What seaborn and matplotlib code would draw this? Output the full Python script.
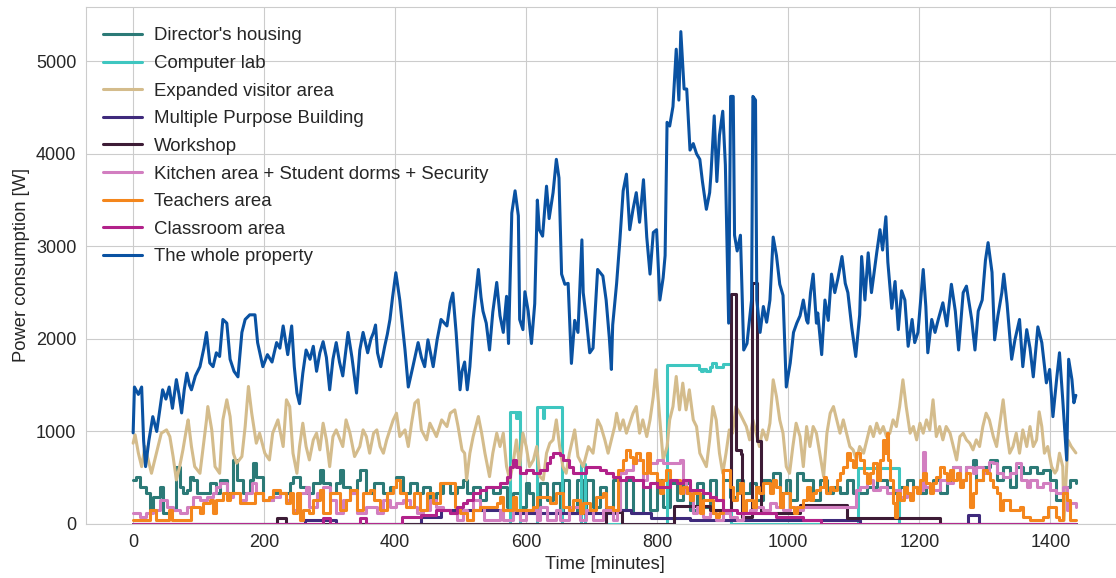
import matplotlib
matplotlib.use("Agg")
import matplotlib.pyplot as plt
import seaborn as sns

# Director's housing
director_t = [0, 5, 10, 20, 26, 31, 41, 46, 56, 66, 71, 76, 82, 87, 92, 97, 107, 117, 127, 132,
              143, 153, 158, 168, 178, 183, 188, 198, 208, 214, 229, 239, 244, 254, 264, 275, 285,
              290, 300, 310, 315, 320, 331, 341, 346, 356, 367, 382, 392, 402, 412, 422, 433, 443,
              453, 463, 473, 484, 494, 504, 509, 519, 529, 539, 549, 560, 570, 580, 590, 600, 605,
              611, 621, 631, 641, 651, 656, 666, 677, 687, 692, 702, 712, 722, 733, 743, 753, 763,
              768, 779, 789, 799, 809, 819, 830, 840, 850, 860, 870, 880, 890, 900, 911, 921, 931,
              941, 951, 962, 972, 977, 987, 997, 1003, 1013, 1023, 1028, 1038, 1048, 1059, 1069,
              1079, 1089, 1099, 1120, 1135, 1150, 1160, 1171, 1181, 1191, 1201, 1211, 1221, 1232,
              1242, 1252, 1262, 1272, 1282, 1287, 1297, 1308, 1318, 1328, 1338, 1348, 1359, 1369,
              1379, 1389, 1399, 1409, 1420, 1430, 1439]
director_w = [476, 512, 404, 332, 151, 296, 404, 115, 151, 620, 404, 332, 368, 512, 476, 332, 332,
              440, 332, 476, 332, 692, 476, 332, 476, 657, 512, 260, 260, 332, 332, 440, 512, 404,
              332, 440, 584, 440, 332, 440, 584, 404, 332, 476, 584, 332, 440, 332, 404, 512, 332,
              440, 332, 404, 260, 332, 440, 332, 404, 476, 332, 404, 260, 404, 332, 404, 188, 332,
              188, 440, 332, 115, 440, 260, 440, 115, 476, 115, 476, 115, 476, 188, 404, 151, 476,
              151, 476, 115, 115, 404, 151, 476, 188, 440, 260, 440, 151, 440, 188, 476, 260, 476,
              296, 476, 332, 440, 260, 476, 404, 548, 332, 476, 260, 548, 476, 476, 260, 476, 332,
              404, 332, 476, 332, 404, 476, 404, 332, 404, 476, 404, 332, 404, 476, 332, 476, 620,
              476, 620, 692, 476, 620, 692, 476, 620, 404, 620, 548, 620, 548, 584, 476, 260, 404,
              476, 440]

# Computer lab
lab_t = [0, 574, 575, 585, 587, 590, 591, 615, 616, 625, 626, 627, 654, 655, 682, 683, 690, 814,
         815, 862, 864, 867, 870, 875, 880, 883, 890, 900, 911, 912, 1106, 1107, 1168, 1169, 1439]
lab_w = [0, 0, 1210, 1150, 1210, 1210, 0, 0, 1266, 1266, 1150, 1266, 1266, 0, 0, 650, 0, 0,
         1720, 1720, 1680, 1650, 1680, 1650, 1700, 1740, 1700, 1730, 1730, 0, 0, 610, 610, 0, 0]

# Expanded visitor area
visitor_t = [0, 3, 8, 13, 18, 23, 28, 33, 38, 43, 51, 56, 61, 66, 71, 76, 82, 84, 89, 94, 102,
             107, 112, 114, 120, 125, 132, 137, 143, 148, 153, 158, 166, 171, 176, 181, 188, 193,
             201, 208, 213, 221, 229, 234, 239, 244, 250, 254, 259, 264, 269, 275, 280, 285, 290,
             295, 300, 305, 310, 320, 325, 331, 338, 346, 351, 356, 361, 367, 372, 377, 382, 387,
             392, 397, 402, 407, 415, 420, 425, 430, 435, 440, 448, 453, 463, 471, 479, 484, 491,
             496, 502, 506, 509, 514, 519, 527, 532, 537, 544, 549, 555, 560, 565, 570, 575, 580,
             585, 590, 595, 600, 605, 611, 616, 621, 626, 631, 636, 641, 646, 651, 656, 661, 666,
             674, 679, 687, 695, 702, 709, 714, 720, 725, 730, 735, 738, 743, 748, 753, 758, 763,
             768, 773, 778, 784, 789, 794, 798, 804, 809, 815, 819, 824, 829, 834, 839, 844, 849,
             855, 860, 865, 870, 875, 880, 885, 890, 895, 900, 905, 910, 915, 920, 926, 931, 936,
             941, 946, 951, 956, 961, 967, 972, 977, 982, 987, 992, 997, 1002, 1007, 1012, 1018,
             1023, 1028, 1033, 1038, 1043, 1048, 1054, 1059, 1064, 1069, 1074, 1079, 1084, 1089,
             1094, 1099, 1104, 1109, 1115, 1120, 1125, 1130, 1135, 1140, 1145, 1150, 1155, 1160,
             1165, 1170, 1175, 1180, 1186, 1191, 1196, 1201, 1206, 1211, 1216, 1221, 1226, 1231,
             1236, 1241, 1247, 1252, 1257, 1262, 1267, 1272, 1277, 1282, 1287, 1292, 1297, 1302,
             1307, 1313, 1318, 1323, 1328, 1333, 1338, 1343, 1348, 1353, 1358, 1364, 1369, 1374,
             1379, 1383, 1387, 1391, 1396, 1402, 1407, 1410, 1414, 1419, 1421, 1427, 1432, 1439]
visitor_w = [873, 963, 765, 620, 837, 692, 548, 692, 837, 981, 1017, 945, 729, 476, 620, 801,
             1053, 1125, 837, 620, 548, 837, 1125, 1269, 1017, 620, 548, 1125, 1342, 1161, 765,
             657, 729, 1053, 1486, 1197, 873, 981, 765, 692, 981, 1125, 837, 1342, 1269, 765, 548,
             837, 1089, 837, 692, 909, 981, 801, 1089, 909, 620, 945, 1017, 837, 1125, 981, 729,
             837, 1017, 945, 765, 981, 1017, 837, 765, 909, 1017, 1125, 1197, 945, 1017, 837, 1089,
             1306, 1342, 1017, 909, 1089, 945, 1125, 1053, 1197, 1233, 1053, 800, 765, 476, 765,
             945, 1161, 981, 765, 512, 765, 981, 837, 981, 620, 476, 657, 909, 620, 981, 837, 620,
             692, 837, 512, 476, 765, 873, 909, 1125, 837, 620, 548, 765, 1017, 729, 620, 837, 765,
             1125, 1053, 909, 765, 909, 1053, 1197, 1017, 1125, 981, 1089, 1197, 1269, 981, 1125,
             945, 1125, 1378, 1666, 1125, 692, 837, 1125, 1269, 1594, 1233, 1522, 1233, 1450,
             1125, 1053, 765, 692, 620, 909, 1269, 1125, 765, 548, 765, 1017, 981, 1269, 1197,
             1125, 1053, 909, 1125, 981, 837, 1017, 909, 1089, 1558, 1378, 1125, 981, 620, 548,
             837, 1089, 945, 620, 1053, 837, 1053, 981, 765, 512, 981, 1197, 1269, 1125, 981,
             1125, 981, 837, 801, 692, 837, 765, 909, 1053, 945, 1089, 981, 1053, 945, 981, 1125,
             1053, 1269, 1558, 1269, 981, 1053, 909, 1089, 981, 1125, 1017, 1342, 945, 1053, 909,
             1053, 981, 837, 692, 945, 981, 909, 873, 801, 909, 837, 1053, 1197, 1125, 945, 837,
             1089, 1342, 1017, 765, 837, 981, 765, 1017, 837, 1053, 837, 909, 1212, 1053, 765,
             837, 620, 550, 584, 765, 620, 40, 906, 837, 768]

# Multiple Purpose Building
mpb_t = [0, 260, 262, 300, 310, 430, 440, 470, 580, 581, 722, 735, 750, 760, 789, 790, 830, 850,
         1100, 1110, 1274, 1275, 1290, 1291, 1439]
mpb_w = [0, 0, 40, 40, 0, 0, 80, 150, 150, 115, 115, 150, 150, 115, 115, 70, 70, 40, 40, 0, 0,
         100, 100, 0, 0]

# Workshop
workshop_t = [0, 218, 220, 232, 234, 720, 722, 745, 746, 826, 860, 880, 911, 912, 919, 920, 928,
              930, 944, 945, 952, 953, 957, 958, 1018, 1089, 1090, 1230, 1231, 1439]
workshop_w = [0, 0, 60, 60, 0, 0, 130, 130, 0, 190, 190, 150, 150, 2480, 2480, 800, 760, 80, 80,
              2600, 2600, 900, 900, 120, 200, 200, 60, 60, 0, 0]

# Kitchen area + Student dorms + Security
kitchen_t = [0, 10, 20, 31, 41, 51, 61, 71, 82, 92, 102, 112, 122, 127, 132, 143, 153, 163, 173,
             181, 188, 198, 214, 224, 234, 244, 254, 264, 269, 280, 290, 300, 310, 320, 331, 341,
             356, 372, 382, 392, 402, 412, 422, 433, 443, 453, 463, 473, 484, 494, 504, 509, 519,
             529, 535, 544, 560, 565, 580, 590, 600, 616, 621, 631, 646, 651, 666, 682, 692, 702,
             717, 733, 738, 743, 753, 763, 768, 779, 784, 799, 809, 819, 834, 840, 844, 855, 860,
             870, 880, 890, 900, 911, 921, 931, 941, 951, 962, 972, 982, 992, 1003, 1013, 1023,
             1099, 1104, 1109, 1120, 1130, 1140, 1150, 1160, 1171, 1181, 1191, 1201, 1206, 1209,
             1221, 1232, 1242, 1252, 1262, 1272, 1282, 1287, 1297, 1306, 1313, 1318, 1328, 1338,
             1348, 1356, 1364, 1369, 1379, 1389, 1399, 1409, 1420, 1425, 1430, 1439]
kitchen_w = [115, 79, 115, 151, 260, 188, 151, 115, 188, 296, 260, 296, 332, 404, 440, 296, 332,
             260, 332, 440, 332, 260, 296, 332, 260, 151, 332, 404, 188, 332, 404, 260, 115, 260,
             332, 115, 188, 115, 260, 188, 224, 260, 188, 115, 151, 260, 188, 151, 115, 43, 151,
             43, 260, 188, 43, 43, 151, 43, 151, 43, 151, 43, 188, 43, 151, 43, 188, 43, 151, 43,
             151, 43, 151, 548, 584, 657, 692, 476, 657, 692, 657, 657, 692, 476, 332, 115, 188,
             79, 115, 43, 115, 79, 43, 115, 151, 188, 151, 224, 188, 151, 188, 151, 188, 188, 368,
             404, 476, 368, 404, 332, 368, 296, 332, 404, 368, 780, 404, 368, 476, 440, 620, 476,
             620, 548, 620, 548, 670, 657, 548, 512, 548, 657, 476, 404, 476, 404, 440, 368, 332,
             404, 151, 224, 188]

# Teachers area
teachers_t = [0, 23, 26, 33, 35, 51, 54, 60, 87, 89, 97, 102, 107, 117, 122, 127, 137, 143, 148,
              158, 163, 183, 186, 193, 198, 208, 214, 224, 234, 239, 244, 250, 254, 259, 269, 275,
              285, 290, 300, 310, 315, 325, 331, 341, 351, 361, 367, 377, 387, 397, 402, 407, 417,
              428, 438, 448, 458, 468, 479, 489, 491, 499, 509, 519, 529, 544, 555, 560, 565, 580,
              585, 600, 611, 616, 631, 636, 646, 656, 666, 672, 682, 687, 697, 707, 717, 722, 733,
              740, 748, 753, 758, 763, 768, 773, 779, 784, 789, 799, 804, 809, 814, 819, 835, 840,
              845, 850, 855, 860, 865, 870, 885, 890, 895, 900, 905, 911, 916, 921, 926, 931, 936,
              946, 951, 956, 961, 972, 977, 982, 987, 992, 1003, 1008, 1013, 1023, 1028, 1033,
              1038, 1043, 1048, 1054, 1058, 1064, 1069, 1074, 1079, 1084, 1089, 1094, 1099, 1104,
              1109, 1115, 1120, 1125, 1130, 1135, 1140, 1145, 1148, 1150, 1153, 1155, 1160, 1163,
              1166, 1171, 1176, 1181, 1186, 1191, 1196, 1201, 1206, 1211, 1216, 1221, 1226, 1232,
              1237, 1242, 1247, 1252, 1257, 1262, 1267, 1272, 1277, 1282, 1287, 1297, 1303, 1308,
              1313, 1318, 1323, 1328, 1333, 1338, 1343, 1353, 1358, 1369, 1389, 1396, 1404, 1409,
              1414, 1419, 1425, 1430, 1439]
teachers_w = [43, 43, 151, 151, 43, 43, 151, 43, 43, 188, 188, 115, 224, 260, 115, 260, 332, 260,
              332, 332, 224, 224, 332, 332, 260, 296, 368, 332, 224, 332, 115, 332, 43, 151, 115,
              260, 368, 115, 332, 332, 151, 260, 368, 151, 332, 368, 260, 151, 332, 404, 476, 332,
              188, 332, 151, 332, 224, 440, 440, 440, 188, 115, 43, 151, 188, 188, 224, 296, 151,
              296, 151, 151, 188, 296, 296, 224, 332, 188, 151, 260, 115, 224, 151, 296, 332, 188,
              151, 584, 692, 800, 729, 657, 765, 692, 548, 765, 548, 476, 332, 476, 584, 476, 332,
              404, 332, 260, 332, 332, 115, 260, 115, 79, 115, 584, 584, 404, 260, 332, 440, 115,
              260, 188, 404, 332, 440, 332, 476, 404, 188, 332, 188, 115, 188, 260, 404, 260, 332,
              368, 404, 512, 332, 404, 368, 476, 548, 620, 765, 692, 620, 765, 692, 548, 440, 548,
              657, 476, 692, 906, 765, 985, 692, 476, 224, 76, 332, 260, 404, 332, 260, 404, 332,
              476, 548, 440, 332, 440, 512, 620, 548, 476, 584, 476, 548, 404, 476, 548, 188, 332,
              476, 584, 548, 476, 404, 332, 151, 260, 260, 151, 151, 188, 79, 43, 79, 188, 188, 79,
              43, 332, 260, 43, 43]

# Classroom area
classroom_t = [0, 285, 290, 300, 341, 346, 356, 405, 410, 440, 463, 484, 494, 504, 509, 519, 529,
               539, 549, 560, 570, 575, 580, 585, 590, 600, 611, 621, 631, 636, 641, 651, 656, 661,
               666, 672, 682, 692, 702, 712, 722, 733, 743, 753, 763, 768, 779, 789, 799, 809, 819,
               830, 840, 850, 860, 870, 880, 890, 900, 911, 921, 941, 962, 982, 1003, 1023, 1048,
               1050, 1439]
classroom_w = [0, 0, 60, 0, 0, 60, 0, 0, 80, 95, 150, 115, 188, 224, 260, 332, 368, 404, 404, 440,
               512, 620, 690, 620, 548, 584, 548, 584, 657, 725, 768, 750, 692, 692, 620, 548, 548,
               620, 620, 584, 548, 512, 476, 512, 476, 476, 404, 440, 404, 404, 476, 440, 476, 368,
               368, 332, 296, 260, 151, 151, 115, 115, 115, 79, 79, 43, 43, 0, 0]

# The whole property
whole_t = [0, 2, 8, 13, 16, 19, 24, 30, 36, 42, 45, 50, 55, 60, 66, 70, 74, 78, 82, 86, 89, 95,
           102, 108, 112, 117, 122, 127, 132, 137, 143, 148, 154, 160, 166, 171, 178, 186, 190,
           198, 205, 212, 219, 224, 229, 236, 242, 246, 250, 254, 259, 264, 270, 275, 280, 285,
           290, 295, 300, 305, 310, 315, 320, 328, 334, 341, 346, 351, 358, 363, 367, 370, 373,
           378, 384, 388, 392, 396, 401, 407, 411, 415, 420, 427, 435, 440, 445, 450, 458, 464,
           470, 479, 484, 488, 493, 499, 502, 506, 510, 514, 519, 527, 531, 534, 539, 544, 549,
           555, 560, 565, 570, 573, 578, 583, 588, 590, 595, 598, 603, 608, 613, 617, 620, 625,
           631, 635, 641, 646, 650, 654, 659, 664, 669, 674, 679, 685, 687, 692, 697, 702, 709,
           717, 722, 727, 730, 732, 738, 743, 748, 753, 758, 763, 768, 773, 779, 784, 789, 794,
           799, 804, 809, 812, 815, 819, 824, 829, 833, 836, 841, 845, 850, 855, 860, 865, 869,
           875, 880, 882, 887, 891, 895, 900, 904, 909, 912, 916, 918, 922, 927, 932, 937, 944,
           946, 950, 952, 957, 962, 967, 972, 977, 982, 987, 992, 997, 1003, 1008, 1013, 1018,
           1023, 1028, 1030, 1034, 1038, 1043, 1045, 1051, 1056, 1061, 1066, 1071, 1076, 1082,
           1087, 1091, 1097, 1103, 1109, 1112, 1117, 1122, 1127, 1135, 1140, 1144, 1149, 1152,
           1158, 1163, 1168, 1173, 1178, 1183, 1189, 1193, 1198, 1206, 1210, 1213, 1219, 1224,
           1229, 1236, 1242, 1249, 1255, 1260, 1267, 1272, 1280, 1285, 1290, 1296, 1301, 1305,
           1311, 1315, 1320, 1326, 1329, 1334, 1341, 1346, 1353, 1358, 1364, 1369, 1374, 1381,
           1387, 1394, 1399, 1404, 1410, 1414, 1419, 1425, 1428, 1433, 1436, 1439]
whole_w = [985, 1480, 1400, 1480, 900, 620, 900, 1160, 1000, 1300, 1450, 1350, 1480, 1250, 1560,
           1400, 1200, 1450, 1630, 1500, 1450, 1600, 1700, 1900, 2070, 1740, 1700, 1850, 1810,
           2210, 2170, 1780, 1650, 1590, 2070, 2210, 2260, 2260, 1960, 1700, 1830, 1750, 1960,
           1900, 2140, 1830, 2140, 1700, 1415, 1300, 1630, 1880, 1780, 1920, 1650, 1850, 1970,
           1800, 1450, 1780, 1960, 1750, 1600, 2070, 1800, 1415, 1880, 2070, 1850, 2000, 2070,
           2150, 1850, 1700, 1920, 2050, 2210, 2450, 2715, 2420, 2150, 1880, 1480, 1700, 1960,
           1800, 1700, 1990, 1700, 1990, 2210, 2140, 2390, 2495, 2070, 1450, 1650, 1750, 1450,
           1700, 2210, 2750, 2450, 2300, 2170, 1880, 2290, 2610, 2250, 2070, 2460, 1950, 3360,
           3600, 3330, 2210, 2100, 2510, 2300, 1950, 2380, 3500, 3180, 3110, 3650, 3300, 3580,
           3940, 3740, 2700, 2590, 2600, 1735, 2200, 2070, 3070, 2500, 2200, 1850, 1900, 2750,
           2680, 2420, 2000, 1670, 2150, 2600, 3070, 3600, 3780, 3180, 3400, 3580, 3260, 3720,
           3100, 2700, 3150, 3180, 2420, 2660, 2900, 4340, 4300, 4510, 5130, 4580, 5320, 4700,
           4700, 4040, 4110, 4000, 3940, 3700, 3400, 3580, 3780, 4410, 3700, 4200, 4460, 3880,
           2170, 4620, 4620, 3120, 2950, 3120, 1880, 1950, 2420, 4620, 4580, 2420, 2070, 2350,
           2180, 2420, 3100, 2900, 2590, 2470, 1480, 1740, 2070, 2170, 2250, 2420, 2200, 2170,
           2500, 2700, 2170, 2280, 1830, 2420, 2200, 2700, 2500, 2660, 2890, 2600, 2500, 2120,
           1810, 2260, 2890, 2420, 2930, 2500, 2930, 3180, 2960, 3320, 2830, 2330, 2620, 2100,
           2520, 2420, 1920, 2210, 1960, 2070, 2750, 2350, 1850, 2210, 2070, 2210, 2390, 2140,
           2590, 2300, 1880, 2500, 2570, 2210, 1880, 2300, 2420, 2850, 3040, 2720, 1990, 2250,
           2500, 2700, 2380, 1780, 1990, 2210, 1700, 2100, 1900, 1590, 2130, 1960, 1525, 1670,
           1160, 1590, 1850, 1340, 690, 1780, 1560, 1310, 1390]

series = [
    ("Director's housing", director_t, director_w, "#2c7a77", True),
    ("Computer lab", lab_t, lab_w, "#3ec6c0", True),
    ("Expanded visitor area", visitor_t, visitor_w, "#d4bc8c", False),
    ("Multiple Purpose Building", mpb_t, mpb_w, "#3f2a7c", True),
    ("Workshop", workshop_t, workshop_w, "#3d1c36", True),
    ("Kitchen area + Student dorms + Security", kitchen_t, kitchen_w, "#d27ec0", True),
    ("Teachers area", teachers_t, teachers_w, "#f4861c", True),
    ("Classroom area", classroom_t, classroom_w, "#b2228a", True),
    ("The whole property", whole_t, whole_w, "#0a52a2", False),
]

sns.set_style("whitegrid")
plt.rcParams['font.family'] = ['Liberation Sans', 'DejaVu Sans']

fig = plt.figure(figsize=(11.16, 5.78), dpi=100)
ax = fig.add_axes([86 / 1116, 54 / 578, 1037 / 1116, 517 / 578])

for name, t, w, c, stepped in series:
    sns.lineplot(x=t, y=w, ax=ax, color=c, label=name, lw=2.2, estimator=None,
                 drawstyle='steps-post' if stepped else 'default')

ax.set_ylim(bottom=0)
ax.set_xlabel('Time [minutes]', fontsize=13.2)
ax.set_ylabel('Power consumption [W]', fontsize=13.2)
ax.tick_params(labelsize=13)
ax.legend(loc='upper left', bbox_to_anchor=(0.0, 0.993), frameon=False, fontsize=13.4,
          handlelength=2.1, handletextpad=0.65, labelspacing=0.57)

fig.savefig('out.png', dpi=100)
